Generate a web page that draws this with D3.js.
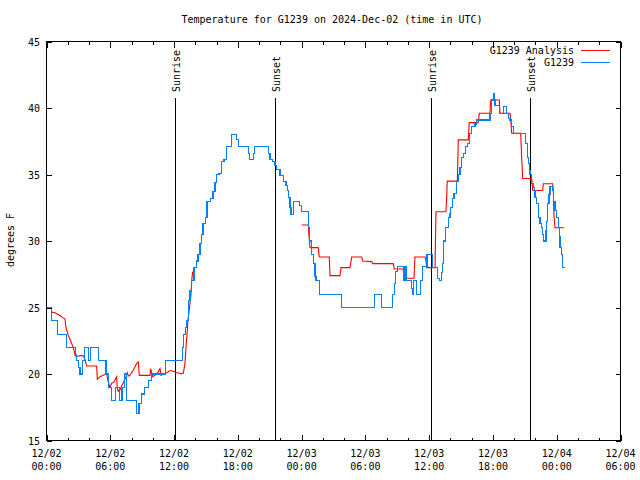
<!DOCTYPE html>
<html><head><meta charset="utf-8">
<script src="https://cdn.jsdelivr.net/npm/d3@7"></script>
<style>
body{margin:0;background:#fff}
svg{display:block}
text{font-family:"DejaVu Sans Mono","Liberation Mono",monospace;font-size:10px;fill:#000}
</style>
</head><body><svg id="c" width="640" height="480"></svg>
<script>
const title = "Temperature for G1239 on 2024-Dec-02 (time in UTC)";
const yLabel = "degrees F";
const seriesNames = ["G1239 Analysis", "G1239"];
const seriesColors = ["#ff0000", "#0080ff"];
const xTickHours = [0, 6, 12, 18, 24, 30, 36, 42, 48, 54];
const xMinorHours = d3.range(0, 55, 2);
const xTickDates = ["12/02","12/02","12/02","12/02","12/03","12/03","12/03","12/03","12/04","12/04"];
const xTickTimes = ["00:00","06:00","12:00","18:00","00:00","06:00","12:00","18:00","00:00","06:00"];
const yTicks = [15, 20, 25, 30, 35, 40, 45];
const sunHours = [12.09, 21.54, 36.17, 45.44];
const sunLabels = ["Sunrise", "Sunset", "Sunrise", "Sunset"];

// G1239 Analysis: [hours since 12/02 00:00 UTC, degrees F]; null = no data
const analysis = [
[0.49,24.65],[0.8,24.6],[1.27,24.4],[1.58,24.2],[1.74,24.15],[1.83,23.5],[2.05,22.9],[2.37,22.3],
[2.59,21.8],[2.68,21.4],[2.78,21.3],[2.99,21.35],[3.31,21.4],[3.46,21.35],[3.62,21.1],[3.78,20.6],
[4.72,20.6],[4.78,19.6],[5.03,19.8],[5.34,19.9],[5.66,20.0],[5.81,19.4],[5.97,19.0],[6.13,19.3],
[6.35,19.4],[6.6,19.8],[6.66,18.9],[6.75,18.7],[6.91,18.8],[7.07,19.1],[7.38,19.6],[7.6,20.1],
[7.7,19.85],[7.85,19.9],[8.17,20.3],[8.49,20.8],[8.64,20.9],[8.73,19.9],[9.74,19.9],[9.8,20.4],
[9.99,19.8],[10.37,20.0],[10.68,20.4],[10.77,19.9],[10.99,20.0],[11.31,20.1],[11.62,20.26],
[11.93,20.2],[12.25,20.1],[12.56,20.05],[12.65,20.0],[12.87,20.05],[13.03,20.8],[13.12,22.0],
[13.25,23.3],[13.3,24.0],[13.5,25.3],[13.59,26.0],[13.66,27.0],[13.75,27.7],
[14.0,null],
[24.01,31.2],[24.63,31.2],[24.68,30.5],[24.79,29.5],[25.57,29.5],[25.66,28.8],[26.6,28.8],
[26.67,27.4],[27.61,27.4],[27.71,28.0],[28.55,28.0],[28.71,28.8],[29.65,28.8],[29.74,28.5],
[30.59,28.45],[30.69,28.3],[32.62,28.3],[32.72,27.9],[33.56,27.9],[33.63,27.2],[34.57,27.2],
[34.66,28.8],[35.61,28.8],[35.7,28.5],[35.77,28.0],[36.55,28.0],[36.64,32.2],[37.58,32.2],
[37.65,33.3],[37.7,34.5],[38.65,34.5],[38.74,37.6],[39.68,37.6],[39.77,38.9],[40.62,38.9],
[40.71,39.6],[41.72,39.6],[41.79,40.6],[42.6,40.6],[42.66,39.6],[43.6,39.6],[43.67,39.2],
[43.76,38.1],[44.61,38.1],[44.7,36.3],[44.8,34.7],[45.64,34.7],[45.74,33.8],[46.68,33.8],
[46.74,34.3],[47.62,34.3],[47.68,33.8],[47.74,31.9],[47.84,31.0],[48.71,31.0]
];

// G1239 station observations: [hours, degrees F] (value holds until next reading)
const station = [
[0.0,25.0],[0.5,24.0],[1.0,23.0],[1.9,22.0],[2.7,21.5],[2.85,21.0],[3.0,20.5],[3.15,20.0],
[3.4,21.0],[3.55,22.0],[3.95,21.0],[4.1,22.0],[4.85,21.0],[5.6,20.0],[5.8,19.0],[6.15,18.0],
[6.45,19.0],[6.85,18.0],[7.1,19.0],[7.35,20.0],[7.55,18.0],[8.45,17.0],[8.7,17.8],[8.9,18.5],
[9.25,19.0],[9.6,19.5],[9.9,20.0],[11.2,21.0],
[12.8,22.0],[12.9,23.0],[13.05,23.5],[13.2,24.0],[13.35,25.5],[13.5,26.3],[13.66,27.0],
[13.88,28.0],[14.13,28.5],[14.25,29.0],[14.44,29.8],[14.6,30.5],[14.72,31.3],[14.98,31.8],
[15.1,33.0],[15.45,33.2],[15.66,33.7],[15.85,34.4],[16.01,35.0],[16.23,35.1],[16.48,36.0],
[16.7,36.1],[16.95,37.1],[17.42,38.0],[17.89,37.6],[18.04,37.1],[18.98,36.6],[19.08,36.1],
[19.45,36.6],[19.61,37.1],[20.87,36.6],[21.03,36.1],[21.28,36.0],[21.5,35.7],[21.66,35.4],
[21.97,34.9],[22.28,34.5],[22.53,34.2],[22.65,33.8],[22.75,33.3],[22.91,32.5],[23.0,32.0],
[23.22,33.0],[23.78,32.7],[24.01,32.2],[24.63,31.0],[24.73,30.0],[24.95,29.0],[25.1,28.3],
[25.26,27.3],[25.35,27.0],[25.7,26.0],[27.77,25.0],[30.85,26.0],[31.55,25.0],[32.55,26.0],
[32.7,26.8],[32.85,27.7],[33.0,28.1],[33.55,27.0],[33.7,28.1],[33.82,27.0],[34.3,26.4],
[34.45,26.0],[34.5,27.0],[34.85,26.0],[35.2,27.0],[35.35,28.1],[35.8,29.0],[36.3,28.0],
[36.75,27.2],[37.0,27.0],[37.15,27.6],[37.25,28.3],[37.35,30.0],[37.55,31.0],[37.8,31.8],
[37.96,32.1],[38.02,32.5],[38.17,33.2],[38.34,33.6],[38.59,34.5],[38.74,35.0],[38.9,35.5],
[39.06,36.3],[39.21,36.6],[39.46,37.1],[39.59,37.3],[39.77,38.1],[40.0,38.6],[40.31,38.8],
[40.47,39.1],[41.72,39.6],[41.9,40.6],[42.03,41.1],[42.1,40.6],[42.19,40.2],[42.6,39.6],
[42.97,40.1],[43.3,39.6],[43.44,39.2],[43.6,39.1],[43.76,38.6],[43.91,38.1],[45.1,37.3],
[45.23,36.3],[45.33,35.8],[45.42,35.3],[45.49,35.0],[45.6,34.3],[45.8,34.0],[45.89,33.8],
[45.96,33.3],[46.11,32.8],[46.27,31.8],[46.43,31.3],[46.58,31.0],[46.68,30.5],[46.74,30.0],
[46.99,30.8],[47.06,31.5],[47.15,32.8],[47.27,33.5],[47.37,34.1],[47.62,33.8],[47.68,33.0],
[47.84,32.3],[48.0,31.8],[48.15,31.0],[48.24,30.3],[48.31,29.5],[48.47,29.0],[48.56,28.0],
[48.78,28.0]
];

const svg = d3.select("#c");
const L = 46.5, R = 620.5, T = 41.5, B = 440.5;
const x = d3.scaleLinear().domain([0, 54]).range([L, R]);
const y = d3.scaleLinear().domain([15, 45]).range([B, T]);

// title
svg.append("text").attr("x", 332).attr("y", 23).attr("text-anchor", "middle").text(title);

// sun lines
const sun = svg.append("g");
sunHours.forEach((h, i) => {
  const sx = Math.round(x(h)) + 0.5;
  sun.append("line").attr("x1", sx).attr("x2", sx).attr("y1", 98).attr("y2", B)
    .attr("stroke", "#000").attr("stroke-width", 1).attr("shape-rendering", "crispEdges");
  sun.append("text").attr("transform", `translate(${sx + 4},92) rotate(-90)`)
    .attr("text-anchor", "start").text(sunLabels[i]);
});

// data lines
const lineA = d3.line().defined(d => d[1] !== null).x(d => x(d[0])).y(d => y(d[1]));
const lineS = d3.line().x(d => x(d[0])).y(d => y(d[1])).curve(d3.curveStepAfter);
svg.append("path").attr("d", lineA(analysis)).attr("fill", "none")
  .attr("stroke", seriesColors[0]).attr("stroke-width", 1.1);
svg.append("path").attr("d", lineS(station)).attr("fill", "none")
  .attr("stroke", seriesColors[1]).attr("stroke-width", 1.1).attr("shape-rendering", "crispEdges");

// axes (inward ticks, mirrored)
const ax = svg.append("g").attr("shape-rendering", "crispEdges");
ax.append("g").attr("transform", `translate(0,${B})`)
  .call(d3.axisBottom(x).tickValues(xMinorHours).tickSize(-3).tickFormat(""));
ax.append("g").attr("transform", `translate(0,${B})`)
  .call(d3.axisBottom(x).tickValues(xTickHours).tickSize(-6).tickFormat(""));
ax.append("g").attr("transform", `translate(0,${T})`)
  .call(d3.axisTop(x).tickValues(xMinorHours).tickSize(-3).tickFormat(""));
ax.append("g").attr("transform", `translate(0,${T})`)
  .call(d3.axisTop(x).tickValues(xTickHours).tickSize(-6).tickFormat(""));
ax.append("g").attr("transform", `translate(${L},0)`)
  .call(d3.axisLeft(y).tickValues(yTicks).tickSize(-5).tickFormat(""));
ax.append("g").attr("transform", `translate(${R},0)`)
  .call(d3.axisRight(y).tickValues(yTicks).tickSize(-5).tickFormat(""));
ax.selectAll(".domain").remove();
ax.selectAll("line").attr("stroke", "#000");
ax.append("rect").attr("x", L).attr("y", T).attr("width", R - L).attr("height", B - T)
  .attr("fill", "none").attr("stroke", "#000");

// tick labels
xTickHours.forEach((h, i) => {
  svg.append("text").attr("x", x(h)).attr("y", 457).attr("text-anchor", "middle").text(xTickDates[i]);
  svg.append("text").attr("x", x(h)).attr("y", 470).attr("text-anchor", "middle").text(xTickTimes[i]);
});
yTicks.forEach(v => {
  svg.append("text").attr("x", 40).attr("y", y(v) + 4).attr("text-anchor", "end").text(v);
});
svg.append("text").attr("transform", "translate(14,240) rotate(-90)").attr("text-anchor", "middle").text(yLabel);

// legend
seriesNames.forEach((n, i) => {
  const ly = 50 + i * 12;
  svg.append("text").attr("x", 574).attr("y", ly + 4).attr("text-anchor", "end").text(n);
  svg.append("line").attr("x1", 581).attr("x2", 610).attr("y1", ly + 0.5).attr("y2", ly + 0.5)
    .attr("stroke", seriesColors[i]).attr("stroke-width", 1).attr("shape-rendering", "crispEdges");
});
</script>
</body></html>
